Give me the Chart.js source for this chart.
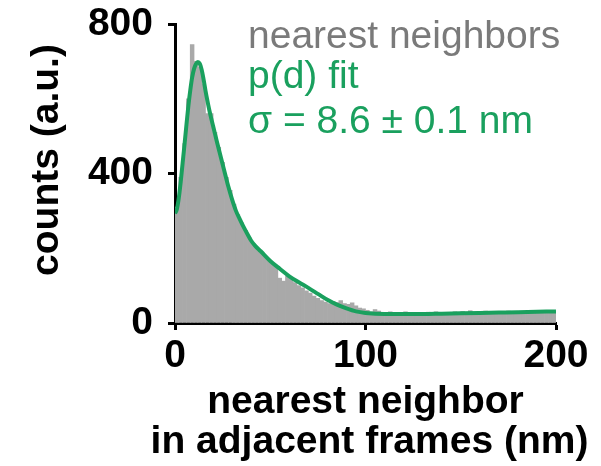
<!DOCTYPE html>
<html>
<head>
<meta charset="utf-8">
<script src="https://cdn.jsdelivr.net/npm/chart.js@4.4.1/dist/chart.umd.min.js"></script>
<style>
html,body{margin:0;padding:0;background:#fff;}
#wrap{width:601px;height:466px;position:relative;}
</style>
</head>
<body>
<div id="wrap"><canvas id="c" width="601" height="466"></canvas></div>
<script>
// Histogram bin centers (nm) and counts
const binCenters = [1,3,5,7,9,11,13,15,17,19,21,23,25,27,29,31,33,35,37,39,41,43,45,47,49,51,53,55,57,59,61,63,65,67,69,71,73,75,77,79,81,83,85,87,89,91,93,95,97,99,101,103,105,107,109,111,113,115,117,119,121,123,125,127,129,131,133,135,137,139,141,143,145,147,149,151,153,155,157,159,161,163,165,167,169,171,173,175,177,179,181,183,185,187,189,191,193,195,197,199];
const binCounts = [310,390,480,600,745,700,685,640,560,560,510,470,430,390,355,318,290,268,248,228,212,200,188,178,168,158,150,120,112,125,118,108,100,94,86,80,72,66,60,56,52,58,55,60,52,50,54,46,40,38,34,30,36,32,28,26,30,24,28,26,30,25,28,24,27,25,29,26,30,25,27,24,28,30,26,31,27,33,28,30,27,32,29,31,28,30,27,32,29,31,28,30,32,29,31,28,30,27,32,29];
// Fit curve p(d)
const fitX = [0,1,2,3,4,5,6,7,8,9,10,11,12,13,14,15,16,17,18,19,20,21,22,24,26,28,30,32,34,36,38,40,42,45,50,55,60,65,70,75,80,85,90,95,100,110,120,130,140,150,160,170,180,190,200];
const fitY = [293,305,335,378,428,478,530,580,622,657,680,693,698,694,678,652,622,595,570,548,527,506,485,445,405,365,330,300,278,257,238,220,207,192,166,145,125,109,94,78,62,49,39,31,27,24,24,24,25,26,27,28,29,30,31];
// Axis ranges and tick steps
const xRange = [0, 200], xStep = 100;
const yRange = [0, 800], yStep = 400;
// Text
const legendLines = ["nearest neighbors","p(d) fit","\u03c3 = 8.6 \u00b1 0.1 nm"];
const legendColors = ["#7a7a7a","#1aa05e","#1aa05e"];
const xTitle = ["nearest neighbor","in adjacent frames (nm)"];
const yTitle = "counts (a.u.)";

const GREEN = "#1aa05e";
const GRAY = "#a9a9a9";
const FONT = "'Liberation Sans', Arial, sans-serif";

const textPlugin = {
  id: 'chartTexts',
  afterDraw(chart) {
    const ctx = chart.ctx;
    const ca = chart.chartArea;
    ctx.save();
    // legend block
    ctx.font = "39px " + FONT;
    ctx.textAlign = 'left';
    ctx.textBaseline = 'middle';
    const ys = [37, 77, 122];
    legendLines.forEach((t, i) => {
      ctx.fillStyle = legendColors[i];
      ctx.fillText(t, 248, ys[i]);
    });
    // x axis title (two lines, centred on the plot area)
    ctx.fillStyle = '#000';
    ctx.font = "bold 39px " + FONT;
    ctx.textAlign = 'center';
    const cx = (ca.left + ca.right) / 2;
    ctx.fillText(xTitle[0], cx, 402);
    ctx.fillText(xTitle[1], cx + 4, 442);
    // y axis title
    ctx.translate(47, 160);
    ctx.rotate(-Math.PI / 2);
    ctx.fillText(yTitle, 0, 0);
    ctx.restore();
  }
};

new Chart(document.getElementById('c'), {
  type: 'bar',
  data: {
    datasets: [
      {
        type: 'line',
        data: fitX.map((x, i) => ({x: x, y: fitY[i]})),
        borderColor: GREEN,
        borderWidth: 4,
        pointRadius: 0,
        cubicInterpolationMode: 'monotone',
        fill: false,
        order: 0
      },
      {
        type: 'bar',
        data: binCenters.map((x, i) => ({x: x, y: binCounts[i]})),
        backgroundColor: GRAY,
        borderWidth: 0,
        barPercentage: 1.0,
        categoryPercentage: 1.0,
        order: 1
      }
    ]
  },
  options: {
    responsive: false,
    animation: false,
    layout: {padding: {left: 0, right: 45, top: 24, bottom: 0}},
    plugins: {legend: {display: false}, tooltip: {enabled: false}},
    scales: {
      x: {
        type: 'linear',
        min: xRange[0], max: xRange[1],
        offset: false,
        afterFit(scale) { scale.height = 466 - 323; },
        ticks: {stepSize: xStep, color: '#000', font: {family: FONT, size: 39, weight: 'bold'}, padding: 3, maxRotation: 0, autoSkip: false},
        grid: {offset: false, drawOnChartArea: false, drawTicks: true, tickLength: 7, tickWidth: 3, tickColor: '#000'},
        border: {display: true, color: '#000', width: 3},
        title: {display: false}
      },
      y: {
        min: yRange[0], max: yRange[1],
        afterFit(scale) { scale.width = 175; },
        ticks: {stepSize: yStep, color: '#000', font: {family: FONT, size: 39, weight: 'bold', lineHeight: 0.4}, padding: 15},
        grid: {offset: false, drawOnChartArea: false, drawTicks: true, tickLength: 7, tickWidth: 3, tickColor: '#000'},
        border: {display: true, color: '#000', width: 3},
        title: {display: false}
      }
    }
  },
  plugins: [textPlugin]
});
</script>
</body>
</html>
